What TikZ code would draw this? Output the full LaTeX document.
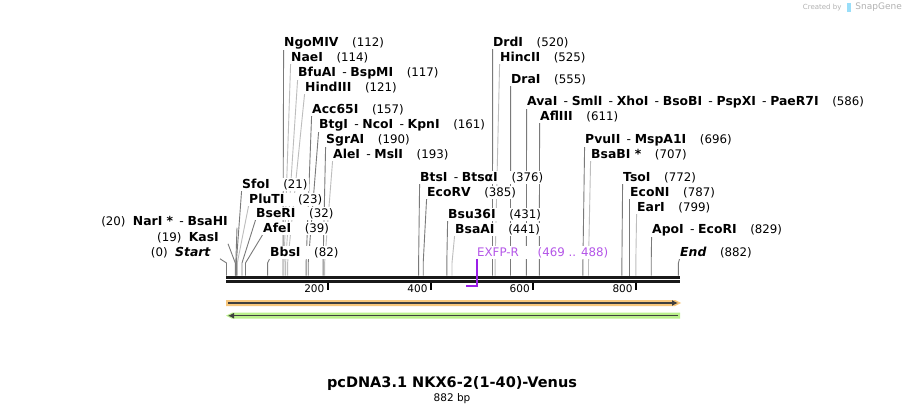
\documentclass[tikz,border=0pt]{standalone}
\usepackage{fontspec}
\setmainfont{DejaVu Sans}
\usetikzlibrary{arrows.meta}
\pgfdeclarelayer{bg}
\pgfsetlayers{bg,main}
\definecolor{cutdark}{HTML}{7A7A7A}
\definecolor{cutlight}{HTML}{BDBDBD}
\definecolor{featorange}{HTML}{F8C77C}
\definecolor{featgreen}{HTML}{BAF08C}
\definecolor{featline}{HTML}{3F3F3F}
\definecolor{primerline}{HTML}{9B1FE8}
\definecolor{primertext}{HTML}{B455E8}
\newcommand{\labfont}{\fontsize{12.4}{14}\selectfont}
\newcommand{\numfont}{\fontsize{11.8}{14}\mdseries\selectfont}
\newcommand{\enz}[1]{\textbf{#1}}
\newcommand{\sepz}{\hspace{0.5em}{\mdseries -}\hspace{0.3em}}
\newcommand{\pos}[1]{\hspace{1.1em}{\numfont(#1)}}
\newcommand{\cutl}[3]{%
  \coordinate (#1-k) at (#2,263);
  \coordinate (#1-s) at (#2,275.5);
  \draw[#3] ([xshift=0.6pt]#1.south west) -- (#1-k) -- (#1-s);}
\newcommand{\cutr}[3]{%
  \coordinate (#1-k) at (#2,263);
  \coordinate (#1-s) at (#2,275.5);
  \draw[#3] ([xshift=8pt]#1.south east) -- (#1-k) -- (#1-s);}
\tikzset{
  lab/.style={anchor=base west, inner sep=1pt, fill=white, font=\labfont},
  labr/.style={anchor=base east, inner sep=1pt, fill=white, font=\labfont},
  dk/.style={draw=cutdark, line width=0.9pt},
  lt/.style={draw=cutlight, line width=0.9pt},
  ticklab/.style={anchor=east, inner sep=1pt, font=\fontsize{10.5}{12}\selectfont},
}
\begin{document}
\begin{tikzpicture}[x=1pt,y=-1pt]
\begin{pgfonlayer}{bg}
\path[use as bounding box, fill=white] (0,0) rectangle (906,415);
\end{pgfonlayer}

% labels, top-left group
\node[lab] (ngomiv) at (283,46) {\enz{NgoMIV}\pos{112}};
\node[lab] (naei) at (290,61) {\enz{NaeI}\pos{114}};
\node[lab] (bfuai) at (297,76) {\enz{BfuAI}\sepz\enz{BspMI}\pos{117}};
\node[lab] (hindiii) at (304,91) {\enz{HindIII}\pos{121}};
\node[lab] (acc) at (311,113) {\enz{Acc65I}\pos{157}};
\node[lab] (btgi) at (318,128) {\enz{BtgI}\sepz\enz{NcoI}\sepz\enz{KpnI}\pos{161}};
\node[lab] (sgrai) at (325,143) {\enz{SgrAI}\pos{190}};
\node[lab] (alei) at (332,158) {\enz{AleI}\sepz\enz{MslI}\pos{193}};
% lower left
\node[lab] (sfoi) at (241,188) {\enz{SfoI}\pos{21}};
\node[lab] (pluti) at (248,203) {\enz{PluTI}\pos{23}};
\node[lab] (bseri) at (255,217) {\enz{BseRI}\pos{32}};
\node[lab] (afei) at (262,232) {\enz{AfeI}\pos{39}};
\node[lab] (bbsi) at (269,256) {\enz{BbsI}\pos{82}};
\node[labr] (nari) at (229,225) {{\numfont(20)}\hspace{0.6em}\enz{NarI *}\sepz\enz{BsaHI}};
\node[labr] (kasi) at (220,241) {{\numfont(19)}\hspace{0.6em}\enz{KasI}};
\node[labr] (start) at (212,256) {{\numfont(0)}\hspace{0.6em}\textbf{\itshape Start}};
% middle
\node[lab] (drdi) at (492,46) {\enz{DrdI}\pos{520}};
\node[lab] (hincii) at (499,61) {\enz{HincII}\pos{525}};
\node[lab] (drai) at (510,83) {\enz{DraI}\pos{555}};
\node[lab] (avai) at (526,105) {\enz{AvaI}\sepz\enz{SmlI}\sepz\enz{XhoI}\sepz\enz{BsoBI}\sepz\enz{PspXI}\sepz\enz{PaeR7I}\pos{586}};
\node[lab] (afliii) at (539,120) {\enz{AflIII}\pos{611}};
\node[lab] (btsi) at (419,181) {\enz{BtsI}\sepz\enz{BtsαI}\pos{376}};
\node[lab] (ecorv) at (426,196) {\enz{EcoRV}\pos{385}};
\node[lab] (bsu) at (447,218) {\enz{Bsu36I}\pos{431}};
\node[lab] (bsaai) at (454,233) {\enz{BsaAI}\pos{441}};
% right
\node[lab] (pvuii) at (584,143) {\enz{PvuII}\sepz\enz{MspA1I}\pos{696}};
\node[lab] (bsabi) at (590,158) {\enz{BsaBI *}\pos{707}};
\node[lab] (tsoi) at (622,181) {\enz{TsoI}\pos{772}};
\node[lab] (econi) at (629,196) {\enz{EcoNI}\pos{787}};
\node[lab] (eari) at (636,211) {\enz{EarI}\pos{799}};
\node[lab] (apoi) at (651,233) {\enz{ApoI}\sepz\enz{EcoRI}\pos{829}};
\node[lab] (end) at (679,256) {\textbf{\itshape End}\pos{882}};

% primer
\node[anchor=base west, inner sep=1pt, fill=white, text=primertext, font=\fontsize{11.8}{14}\selectfont] (exfp) at (476,256) {EXFP-R\hspace{1.6em}(469 .. 488)};

\begin{pgfonlayer}{bg}
\cutl{ngomiv}{283.0}{dk}
\cutl{naei}{284.0}{lt}
\cutl{bfuai}{285.6}{lt}
\cutl{hindiii}{287.6}{lt}
\cutl{acc}{306.1}{dk}
\cutl{btgi}{308.2}{dk}
\cutl{sgrai}{323.1}{dk}
\cutl{alei}{324.6}{lt}
\cutl{sfoi}{236.3}{dk}
\cutl{pluti}{237.3}{lt}
\cutl{bseri}{242.0}{dk}
\cutl{afei}{245.5}{dk}
\cutl{bbsi}{267.6}{dk}
\cutr{nari}{235.8}{dk}
\cutr{kasi}{235.3}{dk}
\cutr{start}{226.5}{dk}
\cutl{drdi}{492.5}{dk}
\cutl{hincii}{495.1}{lt}
\cutl{drai}{510.5}{dk}
\cutl{avai}{526.4}{dk}
\cutl{afliii}{539.3}{dk}
\cutl{btsi}{418.6}{dk}
\cutl{ecorv}{423.2}{dk}
\cutl{bsu}{446.8}{dk}
\cutl{bsaai}{452.0}{lt}
\cutl{pvuii}{582.9}{dk}
\cutl{bsabi}{588.5}{lt}
\cutl{tsoi}{621.9}{dk}
\cutl{econi}{629.6}{dk}
\cutl{eari}{635.8}{lt}
\cutl{apoi}{651.2}{dk}
\cutl{end}{678.4}{dk}
\end{pgfonlayer}

% sequence bar
\draw[line width=3pt, black!90] (226,277.2) -- (680,277.2);
\draw[line width=2.7pt, black!90] (226,281.4) -- (680,281.4);

% ticks
\foreach \x/\t in {327.5/200, 430.7/400, 532.9/600, 635.8/800}{
  \draw[line width=2pt] (\x,282.5) -- (\x,289.5);
  \node[ticklab] at (\x-2,289) {\t};
}

% primer shape
\coordinate (p1) at (466.3,286);
\draw[primerline, line width=1.5pt] (exfp.south west) ++(0.8,0) |- (p1);

% features
\fill[featorange] (226,300) -- (675,300) -- (681,303) -- (675,306) -- (226,306) -- cycle;
\draw[featline, line width=1.3pt, -{Latex[length=6pt,width=6pt]}] (228,303) -- (678,303);
\fill[featgreen] (232,312.7) -- (680,312.7) -- (680,318.7) -- (232,318.7) -- (226,315.7) -- cycle;
\draw[featline, line width=1.3pt, -{Latex[length=6pt,width=6pt]}] (678,315.7) -- (228,315.7);

% title
\node[font=\bfseries\fontsize{14.5}{16}\selectfont] (title) at (452,384) {pcDNA3.1 NKX6-2(1-40)-Venus};
\node[font=\fontsize{10.5}{12}\selectfont] (bp) at (452,399) {882 bp};

% watermark
\node[anchor=east, inner sep=0pt, text=black!30, font=\fontsize{7}{8}\selectfont] (wm) at (902,7.5) {Created by\hspace{14pt}{\fontsize{9}{10}\selectfont SnapGene}};
\fill[cyan!40] (847,3) rectangle (850.5,12);
\end{tikzpicture}
\end{document}
